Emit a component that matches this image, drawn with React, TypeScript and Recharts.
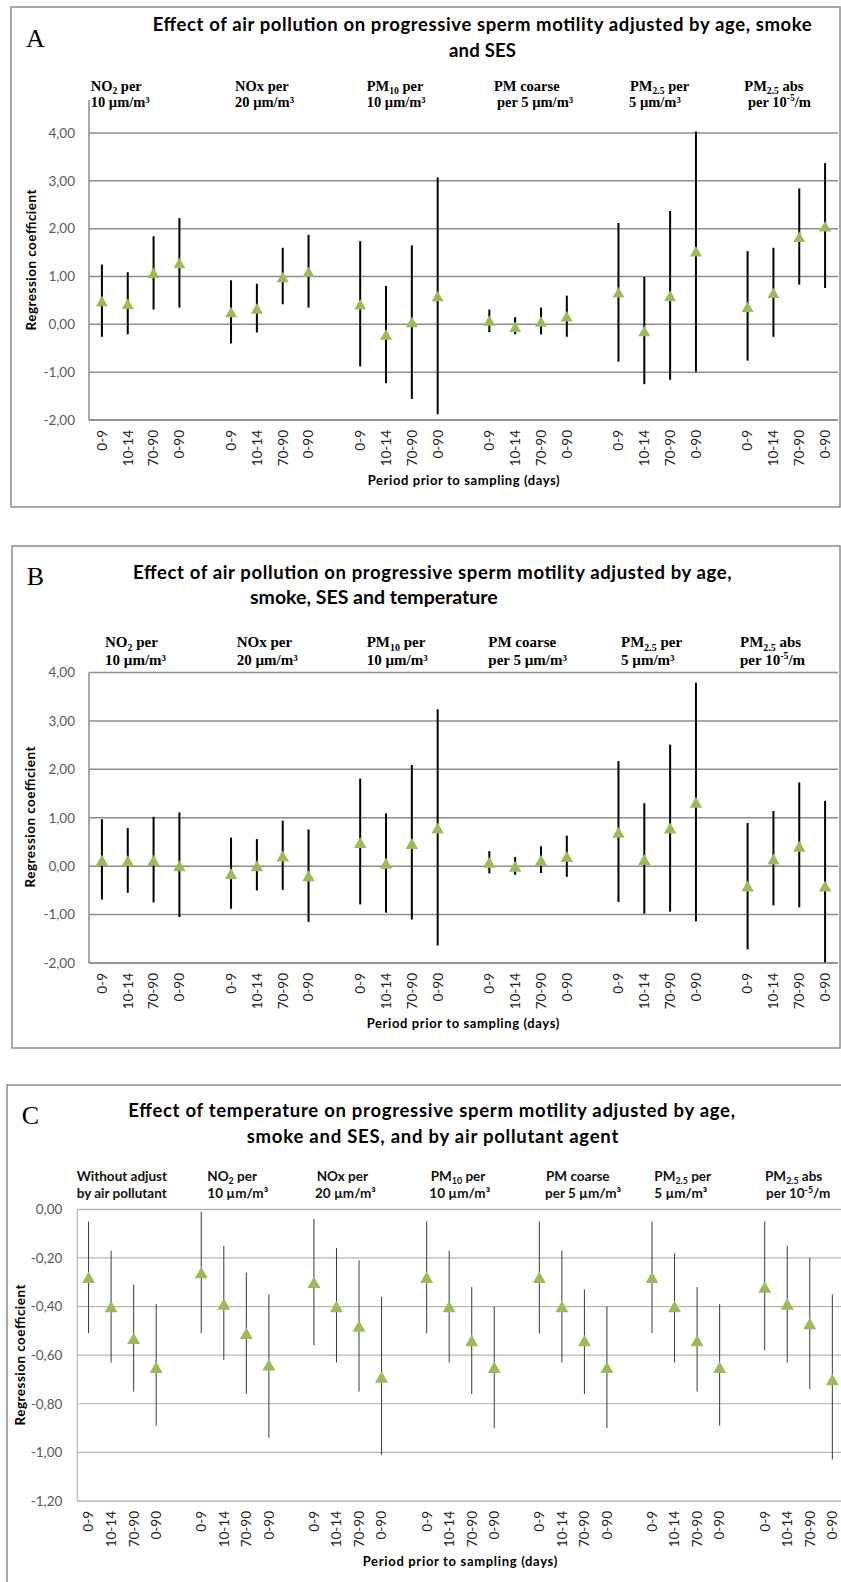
import React from 'react';
import { ScatterChart, Scatter, ErrorBar, XAxis, YAxis, CartesianGrid } from 'recharts';

// ---------- DATA ----------
const periods = ['0-9', '10-14', '70-90', '0-90'];

const headersAir = [
  ['NO_{2} per', '10 µm/m³'],
  ['NOx per', '20 µm/m³'],
  ['PM_{10} per', '10 µm/m³'],
  ['PM coarse', 'per 5 µm/m³'],
  ['PM_{2.5} per', '5 µm/m³'],
  ['PM_{2.5} abs', 'per 10^{-5}/m'],
];
const headersTemp = [
  ['Without adjust', 'by air pollutant'],
  ['NO_{2} per', '10 µm/m³'],
  ['NOx per', '20 µm/m³'],
  ['PM_{10} per', '10 µm/m³'],
  ['PM coarse', 'per 5 µm/m³'],
  ['PM_{2.5} per', '5 µm/m³'],
  ['PM_{2.5} abs', 'per 10^{-5}/m'],
];

// Panel A: estimate, lower and upper CI
const aEst = [0.49, 0.43, 1.08, 1.28, 0.26, 0.33, 0.99, 1.1, 0.42, -0.21, 0.05, 0.59, 0.08, -0.05, 0.06, 0.17, 0.67, -0.14, 0.6, 1.53, 0.37, 0.66, 1.83, 2.05];
const aLow = [-0.26, -0.21, 0.31, 0.35, -0.4, -0.17, 0.42, 0.35, -0.88, -1.23, -1.56, -1.88, -0.16, -0.21, -0.21, -0.26, -0.78, -1.25, -1.16, -0.99, -0.76, -0.26, 0.83, 0.76];
const aHigh = [1.25, 1.09, 1.84, 2.22, 0.92, 0.85, 1.6, 1.87, 1.74, 0.8, 1.65, 3.07, 0.31, 0.15, 0.35, 0.6, 2.12, 0.99, 2.37, 4.03, 1.53, 1.6, 2.84, 3.37];

// Panel B
const bEst = [0.12, 0.11, 0.12, 0.01, -0.15, 0.01, 0.21, -0.2, 0.49, 0.06, 0.47, 0.79, 0.08, 0.0, 0.12, 0.2, 0.7, 0.14, 0.79, 1.32, -0.41, 0.15, 0.41, -0.41];
const bLow = [-0.69, -0.55, -0.75, -1.05, -0.88, -0.5, -0.49, -1.15, -0.79, -0.96, -1.1, -1.64, -0.15, -0.18, -0.14, -0.22, -0.74, -0.98, -0.94, -1.14, -1.72, -0.81, -0.85, -2.0];
const bHigh = [0.97, 0.79, 1.02, 1.11, 0.59, 0.56, 0.94, 0.76, 1.81, 1.09, 2.09, 3.24, 0.31, 0.19, 0.41, 0.63, 2.17, 1.3, 2.51, 3.79, 0.89, 1.14, 1.73, 1.35];

// Panel C
const cEst = [-0.28, -0.4, -0.53, -0.65, -0.26, -0.39, -0.51, -0.64, -0.3, -0.4, -0.48, -0.69, -0.28, -0.4, -0.54, -0.65, -0.28, -0.4, -0.54, -0.65, -0.28, -0.4, -0.54, -0.65, -0.32, -0.39, -0.47, -0.7];
const cLow = [-0.51, -0.63, -0.75, -0.89, -0.51, -0.62, -0.76, -0.94, -0.56, -0.63, -0.75, -1.01, -0.51, -0.63, -0.76, -0.9, -0.51, -0.63, -0.76, -0.9, -0.51, -0.63, -0.75, -0.89, -0.58, -0.63, -0.74, -1.03];
const cHigh = [-0.05, -0.17, -0.31, -0.39, -0.01, -0.15, -0.26, -0.35, -0.04, -0.16, -0.21, -0.36, -0.05, -0.17, -0.32, -0.4, -0.05, -0.17, -0.33, -0.4, -0.05, -0.18, -0.32, -0.39, -0.05, -0.15, -0.2, -0.35];

const airTicksY = [-2, -1, 0, 1, 2, 3, 4];
const tempTicksY = [-1.2, -1, -0.8, -0.6, -0.4, -0.2, 0];

// ---------- helpers ----------
type Pt = { x: number; y: number; err: [number, number] };

function buildData(est: number[], low: number[], high: number[]): Pt[] {
  return est.map((v, i) => {
    const g = Math.floor(i / 4);
    return { x: g * 5 + (i % 4), y: v, err: [+(v - low[i]).toFixed(4), +(high[i] - v).toFixed(4)] };
  });
}
function buildTicks(nGroups: number): number[] {
  const t: number[] = [];
  for (let g = 0; g < nGroups; g++) for (let k = 0; k < 4; k++) t.push(g * 5 + k);
  return t;
}
const fmt = (v: number) => v.toFixed(2).replace('.', ',');

const GREEN = '#9bbb59';
const SANS = 'Lato, "Open Sans", sans-serif';
const SERIF = '"Liberation Serif", "Times New Roman", serif';

const makeTri = (w: number, h: number) => (p: any) => {
  const { cx, cy } = p;
  if (cx == null || cy == null) return <g />;
  return <path d={`M${cx},${cy - h / 2}L${cx + w / 2},${cy + h / 2}L${cx - w / 2},${cy + h / 2}Z`} fill={GREEN} />;
};

const XTick = (props: any) => {
  const { x, y, payload } = props;
  const label = periods[payload.value % 5] ?? '';
  return (
    <text x={x} y={y} transform={`rotate(-90 ${x} ${y})`} textAnchor="end" dy="0.36em" fontSize={13.5} fontFamily={SANS} fill="#222">
      {label}
    </text>
  );
};

function parseRich(s: string) {
  const parts: { t: string; k: 'n' | 'sub' | 'sup' }[] = [];
  const re = /(_\{[^}]*\}|\^\{[^}]*\})/g;
  let last = 0;
  let m: RegExpExecArray | null;
  while ((m = re.exec(s))) {
    if (m.index > last) parts.push({ t: s.slice(last, m.index), k: 'n' });
    parts.push({ t: m[0].slice(2, -1), k: m[0][0] === '_' ? 'sub' : 'sup' });
    last = m.index + m[0].length;
  }
  if (last < s.length) parts.push({ t: s.slice(last), k: 'n' });
  return parts;
}

function Rich({ x, y, text, size, family, weight = 'bold', fill = '#000' }: any) {
  const parts = parseRich(text);
  let shift = 0;
  return (
    <text x={x} y={y} fontSize={size} fontFamily={family} fontWeight={weight} fill={fill} style={{ whiteSpace: 'pre' }}>
      {parts.map((p, i) => {
        const target = p.k === 'sub' ? size * 0.24 : p.k === 'sup' ? -size * 0.38 : 0;
        const dy = target - shift;
        shift = target;
        return (
          <tspan key={i} dy={dy} fontSize={p.k === 'n' ? size : size * 0.66}>
            {p.t}
          </tspan>
        );
      })}
    </text>
  );
}

function Panel(props: any) {
  const { left, top, width, height, margin, domainY, ticksY, nGroups, data, tickMarginY, gridColor, gridWidth, barColor, barWidth, tri } = props;
  const nSlots = nGroups * 5 - 1;
  // grid lines only at the labelled ticks (not at the extended top of the value range)
  const gridGen = (args: any) => {
    const sc = args?.yAxis?.scale;
    if (typeof sc === 'function') return ticksY.map((t: number) => sc(t));
    const off = args?.offset;
    if (!off) return [];
    const [lo, hi] = domainY;
    return ticksY.map((t: number) => off.top + ((hi - t) / (hi - lo)) * off.height);
  };
  return (
    <div style={{ position: 'absolute', left, top }}>
      <ScatterChart width={width} height={height} margin={margin}>
        <CartesianGrid horizontal vertical={false} stroke={gridColor} strokeWidth={gridWidth} horizontalCoordinatesGenerator={gridGen} />
        <XAxis
          type="number"
          dataKey="x"
          domain={[-0.5, nSlots - 0.5]}
          ticks={buildTicks(nGroups)}
          interval={0}
          tickLine={false}
          tickSize={0}
          tickMargin={10}
          axisLine={{ stroke: gridColor, strokeWidth: gridWidth }}
          tick={<XTick />}
          height={60}
          allowDataOverflow
        />
        <YAxis
          type="number"
          dataKey="y"
          domain={domainY}
          ticks={ticksY}
          interval={0}
          tickLine={false}
          tickSize={0}
          tickMargin={tickMarginY}
          axisLine={{ stroke: gridColor, strokeWidth: gridWidth }}
          tick={{ fontSize: 13.5, fill: '#595959', fontFamily: SANS }}
          tickFormatter={fmt}
          width={50}
          allowDataOverflow
        />
        <Scatter data={data} isAnimationActive={false} shape={tri}>
          <ErrorBar dataKey="err" direction="y" width={0} stroke={barColor} strokeWidth={barWidth} isAnimationActive={false} />
        </Scatter>
      </ScatterChart>
    </div>
  );
}

// ---------- layout ----------
const airHeadX_A = [[90.7, 90.7], [235, 235], [366.7, 366.7], [494, 497], [630, 629], [744.3, 748]];
const airHeadX_B = [[105, 105], [236.7, 236.7], [366.7, 366.7], [488.3, 488.3], [621, 621], [740, 740]];
const tempHeadX = [[76.7, 76.7], [207.3, 207.3], [316.7, 315], [430.7, 429.3], [546, 545], [654.3, 654.3], [765, 766]];

const TITLE = 18.5;

export default function App() {
  const dataA = buildData(aEst, aLow, aHigh);
  const dataB = buildData(bEst, bLow, bHigh);
  const dataC = buildData(cEst, cLow, cHigh);
  return (
    <div style={{ position: 'absolute', left: 0, top: 0, width: 841, height: 1582, overflow: 'hidden', background: '#fff' }}>
      <Panel
        left={0} top={0} width={841} height={490}
        margin={{ top: 100, right: 3, bottom: 10, left: 39 }}
        domainY={[-2, 4.69]} ticksY={airTicksY} nGroups={6} data={dataA} tickMarginY={14}
        gridColor="#8d8d8d" gridWidth={1.5} barColor="#000" barWidth={2} tri={makeTri(12, 10.5)}
      />
      <Panel
        left={0} top={600} width={841} height={433}
        margin={{ top: 72.5, right: 3, bottom: 10, left: 39 }}
        domainY={[-2, 4]} ticksY={airTicksY} nGroups={6} data={dataB} tickMarginY={14}
        gridColor="#8d8d8d" gridWidth={1.5} barColor="#000" barWidth={2} tri={makeTri(12.5, 11)}
      />
      <Panel
        left={0} top={1150} width={845} height={421}
        margin={{ top: 59.3, right: 1.4, bottom: 10, left: 27.3 }}
        domainY={[-1.2, 0]} ticksY={tempTicksY} nGroups={7} data={dataC} tickMarginY={15}
        gridColor="#b4b4b4" gridWidth={1.2} barColor="#3a3a3a" barWidth={1} tri={makeTri(13, 11.5)}
      />
      <svg width={841} height={1582} style={{ position: 'absolute', left: 0, top: 0, pointerEvents: 'none' }}>
        {/* frames */}
        <rect x={11} y={7} width={829} height={500} fill="none" stroke="#8c8c8c" strokeWidth={1.5} />
        <rect x={12} y={546} width={828} height={502} fill="none" stroke="#8c8c8c" strokeWidth={1.5} />
        <rect x={7} y={1085} width={850} height={520} fill="none" stroke="#8c8c8c" strokeWidth={1.5} />

        {/* Panel A */}
        <text x={26} y={46.7} fontSize={26} fontFamily={SERIF}>A</text>
        <text x={152.7} y={30.7} fontSize={TITLE} fontFamily={SANS} fontWeight="bold" textLength={659} lengthAdjust="spacing">
          Effect of air pollution on progressive sperm motility adjusted by age, smoke
        </text>
        <text x={449} y={56.7} fontSize={TITLE} fontFamily={SANS} fontWeight="bold" textLength={67} lengthAdjust="spacing">and SES</text>
        {headersAir.map((h, i) => (
          <g key={'ha' + i}>
            <Rich x={airHeadX_A[i][0]} y={90.5} text={h[0]} size={14.5} family={SERIF} />
            <Rich x={airHeadX_A[i][1]} y={107} text={h[1]} size={14.5} family={SERIF} />
          </g>
        ))}
        <text transform="translate(36,260) rotate(-90)" textAnchor="middle" fontSize={13.5} fontFamily={SANS} fontWeight="bold" textLength={141} lengthAdjust="spacing">Regression coefficient</text>
        <text x={367.7} y={485} fontSize={13} fontFamily={SANS} fontWeight="bold" textLength={192} lengthAdjust="spacing">Period prior to sampling (days)</text>

        {/* Panel B */}
        <text x={26.7} y={585} fontSize={26} fontFamily={SERIF}>B</text>
        <text x={133} y={579} fontSize={TITLE} fontFamily={SANS} fontWeight="bold" textLength={598.7} lengthAdjust="spacing">
          Effect of air pollution on progressive sperm motility adjusted by age,
        </text>
        <text x={250} y={604} fontSize={19.5} fontFamily={SANS} fontWeight="bold">smoke, SES and temperature</text>
        {headersAir.map((h, i) => (
          <g key={'hb' + i}>
            <Rich x={airHeadX_B[i][0]} y={647} text={h[0]} size={15} family={SERIF} />
            <Rich x={airHeadX_B[i][1]} y={664.7} text={h[1]} size={15} family={SERIF} />
          </g>
        ))}
        <text transform="translate(35,817) rotate(-90)" textAnchor="middle" fontSize={13.5} fontFamily={SANS} fontWeight="bold" textLength={141} lengthAdjust="spacing">Regression coefficient</text>
        <text x={366.7} y={1028} fontSize={13} fontFamily={SANS} fontWeight="bold" textLength={192.6} lengthAdjust="spacing">Period prior to sampling (days)</text>

        {/* Panel C */}
        <text x={21.7} y={1124} fontSize={26} fontFamily={SERIF}>C</text>
        <text x={128.3} y={1117} fontSize={TITLE} fontFamily={SANS} fontWeight="bold" textLength={606.7} lengthAdjust="spacing">
          Effect of temperature on progressive sperm motility adjusted by age,
        </text>
        <text x={246.7} y={1143} fontSize={TITLE} fontFamily={SANS} fontWeight="bold" textLength={371.6} lengthAdjust="spacing">smoke and SES, and by air pollutant agent</text>
        {headersTemp.map((h, i) => (
          <g key={'hc' + i}>
            <Rich x={tempHeadX[i][0]} y={1180.7} text={h[0]} size={13.5} family={SANS} fill="#111" />
            <Rich x={tempHeadX[i][1]} y={1198} text={h[1]} size={13.5} family={SANS} fill="#111" />
          </g>
        ))}
        <text transform="translate(24.5,1355) rotate(-90)" textAnchor="middle" fontSize={13.5} fontFamily={SANS} fontWeight="bold" textLength={141} lengthAdjust="spacing">Regression coefficient</text>
        <text x={362.7} y={1566} fontSize={13} fontFamily={SANS} fontWeight="bold" textLength={194.6} lengthAdjust="spacing">Period prior to sampling (days)</text>
      </svg>
    </div>
  );
}
